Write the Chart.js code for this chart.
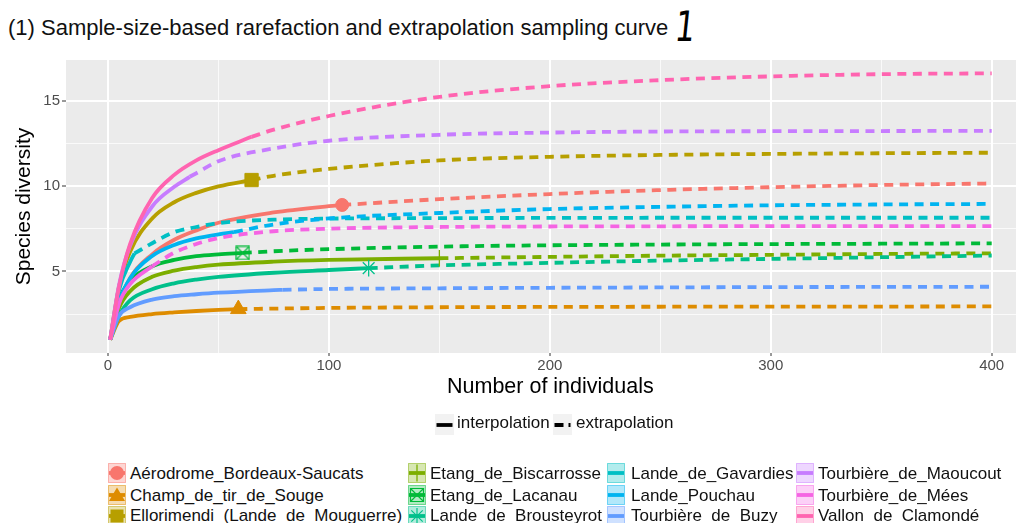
<!DOCTYPE html>
<html>
<head>
<meta charset="utf-8">
<script src="https://cdn.jsdelivr.net/npm/chart.js@4.4.1/dist/chart.umd.min.js"></script>
<style>
  body { margin: 0; width: 1016px; height: 523px; overflow: hidden; position: relative; background: #fff;
         font-family: "Liberation Sans", Arial, sans-serif; }
  #wrap { position: absolute; left: 0; top: 0; width: 1016px; height: 400px; }
  #title { position: absolute; left: 8px; top: 15px; font-size: 22px; line-height: 26px; color: #111; white-space: nowrap; }
  #note { position: absolute; left: 672px; top: 4px; font-size: 42px; line-height: 46px; color: #000;
          font-family: "DejaVu Sans", sans-serif; transform: skewX(-6deg) scaleX(0.75); }
  #xtitle { position: absolute; left: 447px; top: 373px; font-size: 21.5px; line-height: 26px; color: #000; white-space: nowrap; }
  .lg { position: absolute; font-size: 17px; line-height: 20px; color: #111; white-space: nowrap; }
  .key { position: absolute; }
</style>
</head>
<body>
<div id="title">(1) Sample-size-based rarefaction and extrapolation sampling curve</div>
<div id="note">1</div>
<div id="wrap"><canvas id="myChart" width="1016" height="400"></canvas></div>
<div id="xtitle">Number of individuals</div>
<div id="legends"></div>
<script>
// sites, in legend order
var sites = ['Aérodrome_Bordeaux-Saucats', 'Champ_de_tir_de_Souge', 'Ellorimendi_(Lande_de_Mouguerre)',
             'Etang_de_Biscarrosse', 'Etang_de_Lacanau', 'Lande_de_Brousteyrot', 'Lande_de_Gavardies',
             'Lande_Pouchau', 'Tourbière_de_Buzy', 'Tourbière_de_Maoucout', 'Tourbière_de_Mées', 'Vallon_de_Clamondé'];

// number of individuals where the curves are read
var sampleSizes = [1, 5, 10, 20, 30, 40, 50, 75, 100, 150, 200, 250, 300, 350, 400];

// reference sample (end of interpolation) per site
var refSize = [106, 59, 65, 150, 61, 118, 12, 57, 79, 37, 20, 65];
var refDiversity = [8.89, 2.79, 10.35, 5.77, 6.08, 5.19, 6.05, 7.3, 3.92, 10.54, 5.3, 12.88];

// species diversity at each sample size
var aerodrome   = [1, 3.0, 4.6, 6.0, 6.85, 7.4, 7.85, 8.45, 8.82, 9.23, 9.53, 9.76, 9.93, 10.06, 10.15];
var champ       = [1, 2.1, 2.33, 2.5, 2.6, 2.68, 2.74, 2.82, 2.86, 2.9, 2.92, 2.93, 2.94, 2.94, 2.95];
var ellorimendi = [1, 4.1, 6.15, 8.1, 9.05, 9.6, 9.98, 10.6, 11.0, 11.5, 11.71, 11.82, 11.88, 11.92, 11.95];
var biscarrosse = [1, 2.85, 3.84, 4.68, 5.04, 5.25, 5.39, 5.57, 5.67, 5.77, 5.85, 5.92, 5.97, 6.02, 6.06];
var lacanau     = [1, 3.3, 4.45, 5.3, 5.67, 5.89, 6.0, 6.18, 6.3, 6.45, 6.53, 6.57, 6.6, 6.62, 6.64];
var brousteyrot = [1, 2.4, 3.3, 3.95, 4.3, 4.52, 4.68, 4.92, 5.08, 5.35, 5.5, 5.63, 5.73, 5.83, 5.93];
var gavardies   = [1, 3.9, 5.55, 6.65, 7.3, 7.6, 7.83, 8.03, 8.09, 8.12, 8.13, 8.14, 8.14, 8.14, 8.14];
var pouchau     = [1, 3.2, 4.6, 5.9, 6.55, 6.93, 7.17, 7.75, 8.1, 8.42, 8.65, 8.78, 8.87, 8.92, 8.95];
var buzy        = [1, 2.4, 2.9, 3.35, 3.55, 3.66, 3.75, 3.9, 3.97, 4.01, 4.04, 4.06, 4.08, 4.09, 4.1];
var maoucout    = [1, 4.2, 6.5, 8.8, 9.95, 10.75, 11.45, 12.2, 12.65, 13.0, 13.13, 13.19, 13.21, 13.22, 13.23];
var mees        = [1, 3.1, 4.25, 5.3, 6.1, 6.6, 6.95, 7.35, 7.5, 7.6, 7.63, 7.64, 7.65, 7.65, 7.65];
var clamonde    = [1, 4.1, 6.6, 9.3, 10.65, 11.5, 12.1, 13.3, 14.1, 15.22, 15.85, 16.2, 16.42, 16.55, 16.6];

var xTicks = [0, 100, 200, 300, 400];
var yTicks = [5, 10, 15];

var curves = [aerodrome, champ, ellorimendi, biscarrosse, lacanau, brousteyrot,
              gavardies, pouchau, buzy, maoucout, mees, clamonde];

// styling
var colors = ['#F8766D', '#DE8C00', '#B79F00', '#7CAE00', '#00BA38', '#00C08B',
              '#00BFC4', '#00B4F0', '#619CFF', '#C77CFF', '#F564E3', '#FF64B0'];
var shapes = ['circle', 'triangle', 'rect', 'cross', 'boxcross', 'star'];

function boxCross(color, s) {
    var c = document.createElement('canvas');
    c.width = s; c.height = s;
    var g = c.getContext('2d');
    g.strokeStyle = color; g.lineWidth = 1.2;
    g.strokeRect(1, 1, s - 2, s - 2);
    g.beginPath();
    g.moveTo(1, 1); g.lineTo(s - 1, s - 1);
    g.moveTo(s - 1, 1); g.lineTo(1, s - 1);
    g.stroke();
    return c;
}

var datasets = [];
sites.forEach(function (name, i) {
    var n = refSize[i], s = refDiversity[i], vals = curves[i];
    var inter = [], extra = [{x: n, y: s}];
    sampleSizes.forEach(function (m, k) {
        if (m < n) inter.push({x: m, y: vals[k]});
        if (m > n) extra.push({x: m, y: vals[k]});
    });
    inter.push({x: n, y: s});
    var common = {
        borderColor: colors[i], borderWidth: 3.8, pointRadius: 0,
        cubicInterpolationMode: 'monotone', fill: false
    };
    datasets.push(Object.assign({label: name + ' interpolation', data: inter, order: 100 - 2 * i}, common));
    datasets.push(Object.assign({label: name + ' extrapolation', data: extra, order: 99 - 2 * i,
                                 borderDash: [9, 6.5]}, common));
});

// reference sample markers (only six shapes are available)
var radius = [6.5, 9, 9.4, 8.3, 8, 8.3];
shapes.forEach(function (shape, i) {
    var thin = (shape === 'cross' || shape === 'boxcross' || shape === 'star');
    datasets.push({
        label: sites[i] + ' reference',
        data: [{x: refSize[i], y: refDiversity[i]}],
        showLine: false,
        order: -1,
        pointStyle: shape === 'boxcross' ? boxCross(colors[i], 15) : shape,
        pointRadius: radius[i],
        pointBackgroundColor: thin ? 'rgba(0,0,0,0)' : colors[i],
        pointBorderColor: colors[i],
        pointBorderWidth: thin ? 1.3 : 1
    });
});

var panelBg = {
    id: 'panelBg',
    beforeDraw: function (chart) {
        var a = chart.chartArea, c = chart.ctx;
        c.save();
        c.fillStyle = '#EBEBEB';
        c.fillRect(a.left, a.top, a.right - a.left, a.bottom - a.top);
        c.restore();
    }
};

Chart.defaults.font.family = '"Liberation Sans", Arial, sans-serif';

document.addEventListener('DOMContentLoaded', function () {
    var ctx = document.getElementById('myChart').getContext('2d');
    var myChart = new Chart(ctx, {
        type: 'line',
        data: { datasets: datasets },
        plugins: [panelBg],
        options: {
            responsive: false,
            animation: false,
            devicePixelRatio: 1,
            layout: { autoPadding: false, padding: { top: 60, left: 0, right: 0, bottom: 0 } },
            plugins: { legend: { display: false }, tooltip: { enabled: false } },
            scales: {
                x: {
                    type: 'linear', min: -19, max: 411,
                    afterFit: function (s) { s.height = 47; s.paddingLeft = 0; s.paddingRight = 0; },
                    border: { display: false },
                    grid: {
                        color: function (c) { return xTicks.indexOf(c.tick.value) >= 0 ? '#FFFFFF' : 'rgba(255,255,255,0.75)'; },
                        lineWidth: function (c) { return xTicks.indexOf(c.tick.value) >= 0 ? 2 : 1; },
                        tickColor: function (c) { return xTicks.indexOf(c.tick.value) >= 0 ? '#333333' : 'rgba(0,0,0,0)'; },
                        tickLength: 3, tickWidth: 1
                    },
                    ticks: {
                        stepSize: 50, includeBounds: false, autoSkip: false, maxRotation: 0, padding: 1,
                        color: '#4D4D4D', font: { size: 15 },
                        callback: function (v) { return xTicks.indexOf(v) >= 0 ? String(v) : ''; }
                    },
                    title: { display: false }
                },
                y: {
                    type: 'linear', min: 0.22, max: 17.38,
                    afterFit: function (s) { s.width = 66; s.paddingTop = 0; s.paddingBottom = 0; },
                    border: { display: false },
                    grid: {
                        color: function (c) { return yTicks.indexOf(c.tick.value) >= 0 ? '#FFFFFF' : 'rgba(255,255,255,0.75)'; },
                        lineWidth: function (c) { return yTicks.indexOf(c.tick.value) >= 0 ? 2 : 1; },
                        tickColor: function (c) { return yTicks.indexOf(c.tick.value) >= 0 ? '#333333' : 'rgba(0,0,0,0)'; },
                        tickLength: 4, tickWidth: 1
                    },
                    ticks: {
                        stepSize: 2.5, includeBounds: false, padding: 2,
                        color: '#4D4D4D', font: { size: 15 },
                        callback: function (v) { return yTicks.indexOf(v) >= 0 ? String(v) : ''; }
                    },
                    title: { display: true, text: 'Species diversity', color: '#000', font: { size: 21 },
                             padding: { top: 12, bottom: 0 } }
                }
            }
        }
    });

    // legends (drawn as page elements)
    var box = document.getElementById('legends');
    var html = '';
    // linetype legend
    html += '<svg class="key" style="left:435px;top:414px" width="19" height="21">' +
            '<rect width="19" height="21" fill="#F2F2F2"/>' +
            '<line x1="1.5" y1="11" x2="17.5" y2="11" stroke="#000" stroke-width="3.8"/></svg>';
    html += '<div class="lg" style="left:457px;top:413px">interpolation</div>';
    html += '<svg class="key" style="left:553px;top:414px" width="19" height="21">' +
            '<rect width="19" height="21" fill="#F2F2F2"/>' +
            '<line x1="1.5" y1="11" x2="17.5" y2="11" stroke="#000" stroke-width="3.8" stroke-dasharray="9,5"/></svg>';
    html += '<div class="lg" style="left:576px;top:413px">extrapolation</div>';

    var keyX = [108, 408, 607, 796], textX = [130, 430, 631, 818];
    var keyY = [463, 484.5, 506], textY = [464, 485.5, 506];
    sites.forEach(function (name, i) {
        var col = Math.floor(i / 3), row = i % 3, c = colors[i];
        var svg = '<svg class="key" style="left:' + keyX[col] + 'px;top:' + keyY[row] + 'px" width="18" height="20">' +
                  '<rect x="0.5" y="0.5" width="17" height="19" fill="' + c + '" fill-opacity="0.3" stroke="' + c + '" stroke-opacity="0.5"/>' +
                  '<line x1="1" y1="10" x2="17" y2="10" stroke="' + c + '" stroke-width="3.8"/>';
        var sh = shapes[i];
        if (sh === 'circle') svg += '<circle cx="9" cy="10" r="7" fill="' + c + '"/>';
        if (sh === 'triangle') svg += '<polygon points="9,2.5 17,16 1,16" fill="' + c + '"/>';
        if (sh === 'rect') svg += '<rect x="2.5" y="3.5" width="13" height="13" fill="' + c + '"/>';
        if (sh === 'cross') svg += '<path d="M9 1.5V18.5M1 10H17" stroke="' + c + '" stroke-width="1.3"/>';
        if (sh === 'boxcross') svg += '<path d="M2.5 3.5H15.5V16.5H2.5Z M2.5 3.5L15.5 16.5M15.5 3.5L2.5 16.5" fill="none" stroke="' + c + '" stroke-width="1.2"/>';
        if (sh === 'star') svg += '<path d="M9 2V18M1 10H17M3.3 4.3L14.7 15.7M14.7 4.3L3.3 15.7" stroke="' + c + '" stroke-width="1.2"/>';
        svg += '</svg>';
        html += svg + '<div class="lg" style="left:' + textX[col] + 'px;top:' + textY[row] + 'px">' + name + '</div>';
    });
    box.innerHTML = html;
});
</script>
</body>
</html>
